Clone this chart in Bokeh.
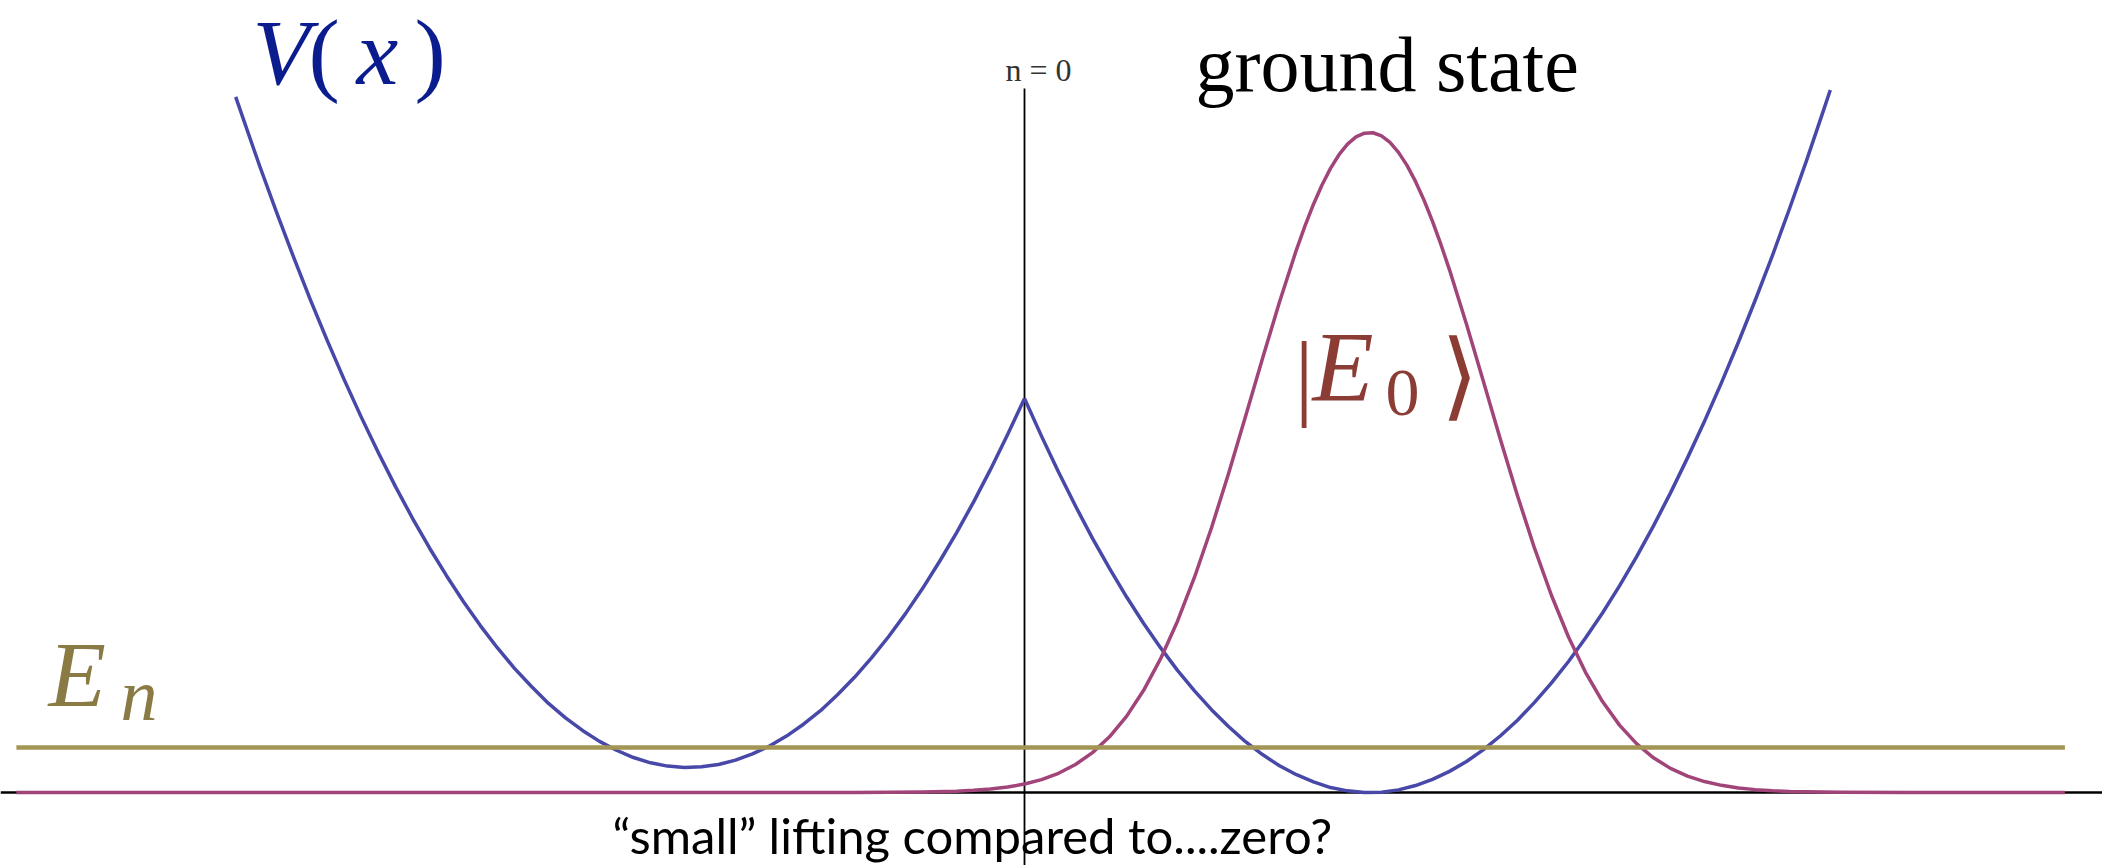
from bokeh.plotting import figure
from bokeh.models import Range1d
from bokeh.core.properties import value
from bokeh.embed import file_html
from bokeh.resources import INLINE

W, H = 2102, 865

# Double-well potential V(x), built from its two branches that meet at the cusp x = 0
v_left_x = [-2.32, -2.3, -2.25, -2.2, -2.15, -2.1, -2.05, -2.0, -1.95, -1.9, -1.85, -1.8,
            -1.75, -1.7, -1.65, -1.6, -1.55, -1.5, -1.45, -1.4, -1.35, -1.3, -1.25, -1.2,
            -1.15, -1.1, -1.05, -1.0, -0.95, -0.9, -0.85, -0.8, -0.75, -0.7, -0.65, -0.6,
            -0.55, -0.5, -0.45, -0.4, -0.35, -0.3, -0.25, -0.2, -0.15, -0.1, -0.05, 0.0]
v_left_y = [2.108, 2.048, 1.900, 1.759, 1.623, 1.492, 1.368, 1.249, 1.136, 1.029, 0.927, 0.831,
            0.741, 0.657, 0.578, 0.505, 0.438, 0.376, 0.321, 0.270, 0.226, 0.188, 0.155, 0.128,
            0.106, 0.090, 0.080, 0.076, 0.078, 0.085, 0.098, 0.117, 0.141, 0.171, 0.207, 0.248,
            0.296, 0.349, 0.408, 0.472, 0.542, 0.618, 0.700, 0.787, 0.880, 0.979, 1.084, 1.194]
v_right_x = [0.0, 0.05, 0.1, 0.15, 0.2, 0.25, 0.3, 0.35, 0.4, 0.45, 0.5, 0.55, 0.6, 0.65,
             0.7, 0.75, 0.8, 0.85, 0.9, 0.95, 1.0, 1.05, 1.1, 1.15, 1.2, 1.25, 1.3, 1.35,
             1.4, 1.45, 1.5, 1.55, 1.6, 1.65, 1.7, 1.75, 1.8, 1.85, 1.9, 1.95, 2.0, 2.05,
             2.1, 2.15, 2.2, 2.25, 2.3, 2.35, 2.37]
v_right_y = [1.194, 1.080, 0.971, 0.868, 0.770, 0.679, 0.593, 0.513, 0.439, 0.370, 0.308, 0.251,
             0.200, 0.154, 0.115, 0.081, 0.054, 0.032, 0.015, 0.005, 0.000, 0.001, 0.008, 0.021,
             0.040, 0.064, 0.094, 0.130, 0.172, 0.219, 0.273, 0.332, 0.397, 0.468, 0.544, 0.626,
             0.714, 0.808, 0.908, 1.014, 1.125, 1.242, 1.365, 1.494, 1.628, 1.769, 1.915, 2.067, 2.129]

# Ground-state wavefunction |E0> localised in the right well
psi_x = [-2.965, -1.0, -0.5, -0.3, -0.2, -0.15, -0.1, -0.05, 0.0, 0.05, 0.1, 0.15, 0.2, 0.25,
         0.3, 0.35, 0.4, 0.45, 0.5, 0.55, 0.6, 0.65, 0.7, 0.75, 0.8, 0.825, 0.85, 0.875,
         0.9, 0.925, 0.95, 0.975, 1.0, 1.025, 1.05, 1.075, 1.1, 1.125, 1.15, 1.175, 1.2,
         1.225, 1.25, 1.3, 1.35, 1.4, 1.45, 1.5, 1.55, 1.6, 1.65, 1.7, 1.75, 1.8, 1.85,
         1.9, 1.95, 2.0, 2.05, 2.1, 2.15, 2.2, 2.25, 2.4, 2.6, 3.06]
psi_y = [0.0, 0.0, 0.0001, 0.0013, 0.0039, 0.0065, 0.0105, 0.0166, 0.0257, 0.0391, 0.0582, 0.0848,
         0.1209, 0.1688, 0.2307, 0.3089, 0.4047, 0.5192, 0.6523, 0.8023, 0.9661, 1.1392, 1.3151,
         1.4866, 1.6452, 1.7171, 1.7828, 1.8411, 1.8913, 1.9327, 1.9646, 1.9865, 1.9981, 1.9992,
         1.9897, 1.9698, 1.9399, 1.9003, 1.8518, 1.7950, 1.7307, 1.6600, 1.5838, 1.4190, 1.2449,
         1.0692, 0.8993, 0.7403, 0.5969, 0.4711, 0.3642, 0.2755, 0.2041, 0.1481, 0.1051, 0.0731,
         0.0498, 0.0332, 0.0217, 0.0138, 0.0087, 0.0053, 0.0032, 0.0006, 0.0, 0.0]

# Energy level E_n
level_x = [-2.965, 3.06]
level_y = [0.136, 0.136]

X0, X1 = -3.01176, 3.17059
Y0, Y1 = -0.22121, 2.4


def dx(px):
    return X0 + px * (X1 - X0) / W


def dy(py):
    return Y1 - py * (Y1 - Y0) / H


p = figure(width=W, height=H, output_backend="svg", toolbar_location=None,
           x_axis_type=None, y_axis_type=None,
           x_range=Range1d(X0, X1), y_range=Range1d(Y0, Y1),
           min_border=0, outline_line_color=None)
p.background_fill_color = "white"
p.border_fill_color = "white"

# axes through the origin
p.line([X0, X1], [0, 0], line_color="black", line_width=2.5)
p.line([0, 0], [dy(88), Y0], line_color="black", line_width=1.8)

BLUE = "#4848a8"
PINK = "#a0447a"
OLIVE = "#a39655"

p.line(v_left_x, v_left_y, line_color=BLUE, line_width=3.5, line_join="round")
p.line(v_right_x, v_right_y, line_color=BLUE, line_width=3.5, line_join="round")
p.line(psi_x, psi_y, line_color=PINK, line_width=3.5, line_join="round")
p.line(level_x, level_y, line_color=OLIVE, line_width=4.5)

SERIF = value("Liberation Serif")


def label(px, py, txt, size, color, style="normal", font=SERIF):
    # py is the wanted baseline; the svg text sits lower by about 0.365 em
    base = py - 0.365 * size
    p.text(x=[dx(px)], y=[dy(base)], text=[txt], text_font=font,
           text_font_size=value(f"{size}px"), text_font_style=style,
           text_color=color, text_baseline="alphabetic", text_align="left")


# V(x)
VC = "#0b1c8e"
label(252, 86, "V", 94, VC, "italic")
label(308, 86, "(", 94, VC)
label(356, 86, "x", 94, VC, "italic")
label(414, 86, ")", 94, VC)

# ground state
label(1195, 92, "ground state", 78, "black")

# n = 0 tag on the vertical axis
label(1005, 81, "n = 0", 32, "#333333")

# |E0>
EC = "#8b3d35"
label(1294, 410, "|", 96, EC)
label(1312, 402, "E", 100, EC, "italic")
label(1385, 417, "0", 68, EC)
label(1440, 410, "\u27e9", 96, EC)

# E_n
NC = "#8a7b45"
label(48, 708, "E", 94, NC, "italic")
label(120, 722, "n", 74, NC, "italic")

# caption
label(612, 852, "\u201csmall\u201d lifting compared to....zero?", 49, "black",
      font=value("Lato"))

open("out.html", "w").write(file_html(p, INLINE))
